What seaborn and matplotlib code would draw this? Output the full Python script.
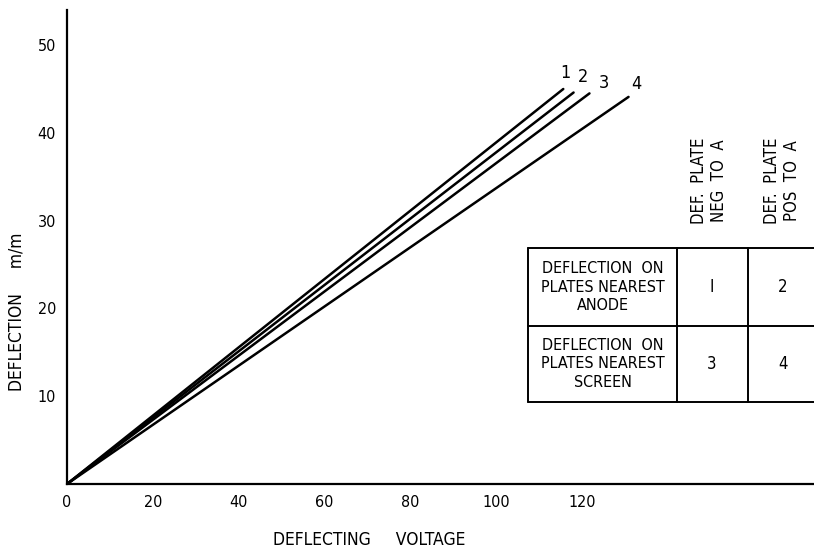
import pandas as pd
import numpy as np
import seaborn as sns
import matplotlib.pyplot as plt
from matplotlib.lines import Line2D

# curve end points (all curves start at the origin)
curves = ['1', '2', '3', '4']
end_voltage = [115.6, 118.0, 121.7, 130.8]
end_deflection = [45.0, 44.6, 44.5, 44.1]
label_pos = [(116.0, 46.8), (120.2, 46.4), (125.0, 45.7), (132.7, 45.6)]

x_ticks = [0, 20, 40, 60, 80, 100, 120]
y_ticks = [10, 20, 30, 40, 50]

col_heads = ['DEF.  PLATE\nNEG  TO  A', 'DEF.  PLATE\nPOS  TO  A']
row_heads = ['DEFLECTION  ON\nPLATES NEAREST\nANODE', 'DEFLECTION  ON\nPLATES NEAREST\nSCREEN']
cells = [['I', '2'], ['3', '4']]

rows = []
for c, xv, yv in zip(curves, end_voltage, end_deflection):
    rows.append({'curve': c, 'voltage': 0.0, 'deflection': 0.0})
    rows.append({'curve': c, 'voltage': xv, 'deflection': yv})
df = pd.DataFrame(rows)

sns.set_style('white')
plt.rcParams['font.family'] = ['DejaVu Sans']
plt.rcParams['font.stretch'] = 'condensed'
plt.rcParams['text.color'] = 'black'
plt.rcParams['axes.labelcolor'] = 'black'
plt.rcParams['xtick.color'] = 'black'
plt.rcParams['ytick.color'] = 'black'

W, H = 814, 548
fig = plt.figure(figsize=(W / 100, H / 100), dpi=100)
ax = fig.add_axes([67 / W, (H - 484) / H, (W - 67) / W, (484 - 10) / H])

sns.lineplot(data=df, x='voltage', y='deflection', units='curve', estimator=None,
             color='black', linewidth=1.8, ax=ax, legend=False)

for c, (lx, ly) in zip(curves, label_pos):
    ax.text(lx, ly, c, fontsize=13, ha='center', va='center')

ax.set_xlim(0, 174)
ax.set_ylim(0, 54)
ax.set_xticks(x_ticks)
ax.set_yticks(y_ticks)
ax.tick_params(axis='both', direction='in', length=3, width=1, labelsize=11.5, pad=8)
for s in ['top', 'right']:
    ax.spines[s].set_visible(False)
for s in ['left', 'bottom']:
    ax.spines[s].set_color('black')
    ax.spines[s].set_linewidth(1.6)
ax.set_xlabel('DEFLECTING     VOLTAGE', fontsize=12.5)
ax.xaxis.set_label_coords(0.405, -0.10)
ax.set_ylabel('DEFLECTION     m/m', fontsize=12.5)
ax.yaxis.set_label_coords(-0.056, 0.363)


def fx(px):
    return px / W


def fy(py):
    return 1 - py / H


# table drawn in pixel positions of the figure
tl, tr = 528, 820
col_x = [528, 677, 748, 820]
row_y = [248, 326, 402]
for y in row_y:
    fig.add_artist(Line2D([fx(tl), fx(tr)], [fy(y), fy(y)], color='black', lw=1.4))
for x in col_x[:3]:
    fig.add_artist(Line2D([fx(x), fx(x)], [fy(row_y[0]), fy(row_y[-1])], color='black', lw=1.4))

for i, rh in enumerate(row_heads):
    yc = (row_y[i] + row_y[i + 1]) / 2
    fig.text(fx((col_x[0] + col_x[1]) / 2), fy(yc), rh, fontsize=11.5, ha='center', va='center',
             linespacing=1.3)
    for j in range(2):
        fig.text(fx((col_x[j + 1] + col_x[j + 2]) / 2 - 1), fy(yc), cells[i][j], fontsize=12,
                 ha='center', va='center')

for j, ch in enumerate(col_heads):
    fig.text(fx(709 + j * 73), fy(181), ch, fontsize=12, rotation=90, ha='center', va='center',
             linespacing=1.2)

fig.savefig('out.png', dpi=100)
